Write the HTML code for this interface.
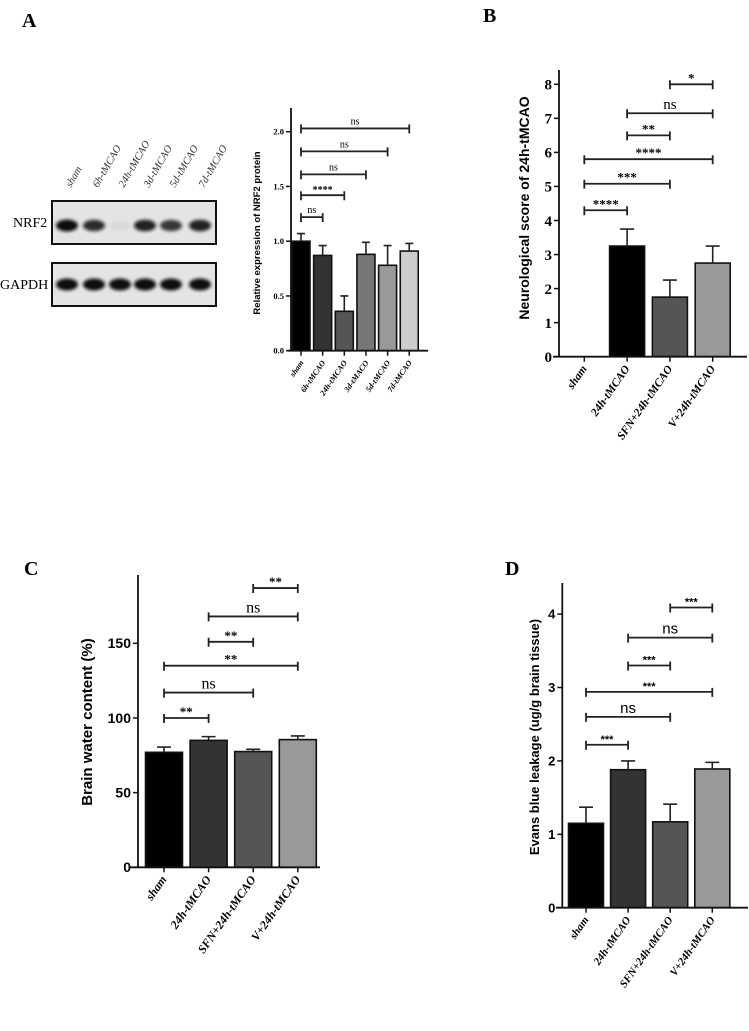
<!DOCTYPE html>
<html><head><meta charset="utf-8"><style>
html,body{margin:0;padding:0;background:#fff}
svg{display:block}
</style></head><body>
<svg id="fig" width="749" height="1031" viewBox="0 0 749 1031" xmlns="http://www.w3.org/2000/svg">
<defs><filter id="blur" x="-50%" y="-50%" width="200%" height="200%"><feGaussianBlur stdDeviation="1.6"/></filter></defs>
<g font-family="Liberation Serif, serif" font-weight="bold" font-size="20">
<text x="22" y="27">A</text>
<text x="483" y="22">B</text>
<text x="24" y="575">C</text>
<text x="505" y="575">D</text>
</g>
</svg>
<script>
// ---------- data ----------
const blotLanes = ["sham","6h-tMCAO","24h-tMCAO","3d-tMCAO","5d-tMCAO","7d-tMCAO"];
const nrf2Band = [1.0, 0.85, 0.05, 0.9, 0.8, 0.9];
const gapdhBand = [1.0, 1.0, 1.0, 1.0, 1.0, 1.0];

const catsA = ["sham","6h-tMCAO","24h-tMCAO","3d-tMACO","5d-tMCAO","7d-tMCAO"];
const valsA = [1.0, 0.87, 0.36, 0.88, 0.78, 0.91];
const errA = [1.07, 0.96, 0.50, 0.99, 0.96, 0.98];
const ticksA = [0, 0.5, 1.0, 1.5, 2.0];
const tickLabA = ["0.0","0.5","1.0","1.5","2.0"];
const brA = [[0,1,1.22,"ns"],[0,2,1.42,"****"],[0,3,1.61,"ns"],[0,4,1.82,"ns"],[0,5,2.03,"ns"]];

const catsB = ["sham","24h-tMCAO","SFN+24h-tMCAO","V+24h-tMCAO"];
const valsB = [0, 3.25, 1.75, 2.75];
const errB = [0, 3.75, 2.25, 3.25];
const ticksB = [0,1,2,3,4,5,6,7,8];
const tickLabB = ["0","1","2","3","4","5","6","7","8"];
const brB = [[0,1,4.3,"****"],[0,2,5.08,"***"],[0,3,5.8,"****"],[1,2,6.5,"**"],[1,3,7.15,"ns"],[2,3,8.0,"*"]];

const catsC = ["sham","24h-tMCAO","SFN+24h-tMCAO","V+24h-tMCAO"];
const valsC = [77, 85, 77.5, 85.5];
const errC = [80.5, 87.5, 79, 88];
const ticksC = [0,50,100,150];
const tickLabC = ["0","50","100","150"];
const brC = [[0,1,100,"**"],[0,2,117,"ns"],[0,3,135,"**"],[1,2,151,"**"],[1,3,168,"ns"],[2,3,187,"**"]];

const catsD = ["sham","24h-tMCAO","SFN+24h-tMCAO","V+24h-tMCAO"];
const valsD = [1.15, 1.88, 1.17, 1.89];
const errD = [1.37, 2.0, 1.41, 1.98];
const ticksD = [0,1,2,3,4];
const tickLabD = ["0","1","2","3","4"];
const brD = [[0,1,2.22,"***"],[0,2,2.6,"ns"],[0,3,2.94,"***"],[1,2,3.3,"***"],[1,3,3.68,"ns"],[2,3,4.09,"***"]];

// ---------- drawing ----------
const NS = "http://www.w3.org/2000/svg";
const svg = document.getElementById("fig");
function mk(tag, attrs, parent){
  const e = document.createElementNS(NS, tag);
  for (const k in attrs) e.setAttribute(k, attrs[k]);
  (parent||svg).appendChild(e);
  return e;
}

function panel(c){
  const g = mk("g", {});
  
  
  const y = v => c.y0 - v * c.ppu;
  const x = i => c.x0 + i * c.dx;
  c.vals.forEach((v, i) => {
    const b = mk("rect", {x: x(i) - c.bw/2, y: y(v), width: c.bw, height: Math.max(0, y(0) - y(v)), fill: c.colors[i], stroke: "#111", "stroke-width": 1.6}, g);
    
    
    if (c.errs[i] > v) {
      const e = mk("path", {d: `M${x(i)},${y(v)}V${y(c.errs[i])}M${x(i)-c.cap},${y(c.errs[i])}H${x(i)+c.cap}`, stroke: "#222", "stroke-width": 1.6, fill: "none"}, g);
      
      
    }
  });
  const ax = mk("path", {d: `M${c.ax},${c.top}V${y(0)}M${c.xs},${y(0)}H${c.xe}`, stroke: "#111", "stroke-width": 1.8, fill: "none"}, g);
  
  
  c.ticks.forEach((t, i) => {
    mk("line", {x1: c.ax - 5, x2: c.ax, y1: y(t), y2: y(t), stroke: "#111", "stroke-width": 1.5}, g);
    const tl = mk("text", {x: c.ax - 7, y: y(t) + c.tfs*0.35, "text-anchor": "end", "font-size": c.tfs, "font-family": c.tfont, "font-weight": "bold"}, g);
    tl.textContent = c.tickLab[i];
    
    
  });
  c.cats.forEach((cat, i) => {
    mk("line", {x1: x(i), x2: x(i), y1: y(0), y2: y(0) + 5, stroke: "#111", "stroke-width": 1.5}, g);
    const tx = x(i) + 3, ty = y(0) + 12;
    const t = mk("text", {x: tx, y: ty, "text-anchor": "end", "font-size": c.xfs, "font-family": "Liberation Serif, serif", "font-weight": "bold", "font-style": "italic", transform: `rotate(-55 ${tx} ${ty})`}, g);
    t.textContent = cat;
    
    
  });
  c.br.forEach(b => {
    const x1 = x(b[0]), x2 = x(b[1]), yy = y(b[2]);
    const p = mk("path", {d: `M${x1},${yy-4}V${yy+5}M${x1},${yy}H${x2}M${x2},${yy-4}V${yy+5}`, stroke: "#222", "stroke-width": 1.8, fill: "none"}, g);
    
    
    const isNs = b[3] === "ns";
    const t = mk("text", {x: (x1 + x2)/2, y: yy - (isNs ? 4 : 2), "text-anchor": "middle", "font-size": isNs ? c.nsfs : c.stfs, "font-family": c.nsfont, "font-weight": isNs ? "normal" : "bold"}, g);
    t.textContent = b[3];
    
    
  });
  const tt = mk("text", {x: c.tx, y: c.ty, "text-anchor": "middle", "font-size": c.tts, "font-family": "Liberation Sans, sans-serif", "font-weight": "bold", transform: `rotate(-90 ${c.tx} ${c.ty})`}, g);
  tt.textContent = c.title;
  
  
}

panel({name:"chart-a", cats:catsA, vals:valsA, errs:errA, ticks:ticksA, tickLab:tickLabA, br:brA,
  colors:["#000","#333","#555","#777","#999","#ccc"],
  ax:291, y0:350.7, ppu:109.5, top:108, xs:288, xe:428, x0:301, dx:21.65, bw:18, cap:4,
  tfs:8.5, tfont:"Liberation Serif, serif", xfs:8, nsfs:10, stfs:10, nsfont:"Liberation Serif, serif",
  title:"Relative expression of NRF2 protein", tx:260, ty:233, tts:9.5});

panel({name:"chart-b", cats:catsB, vals:valsB, errs:errB, ticks:ticksB, tickLab:tickLabB, br:brB,
  colors:["#000","#000","#555","#999"],
  ax:559, y0:356.7, ppu:34.05, top:70, xs:553, xe:747, x0:584.3, dx:42.8, bw:35, cap:7,
  tfs:15, tfont:"Liberation Serif, serif", xfs:11.5, nsfs:15, stfs:13, nsfont:"Liberation Serif, serif",
  title:"Neurological score of 24h-tMCAO", tx:529, ty:208, tts:14});

panel({name:"chart-c", cats:catsC, vals:valsC, errs:errC, ticks:ticksC, tickLab:tickLabC, br:brC,
  colors:["#000","#333","#555","#999"],
  ax:138, y0:867.3, ppu:1.4933, top:575, xs:130, xe:320, x0:164, dx:44.6, bw:37, cap:7,
  tfs:14, tfont:"Liberation Sans, sans-serif", xfs:12, nsfs:16, stfs:13, nsfont:"Liberation Serif, serif",
  title:"Brain water content (%)", tx:92, ty:722, tts:15});

panel({name:"chart-d", cats:catsD, vals:valsD, errs:errD, ticks:ticksD, tickLab:tickLabD, br:brD,
  colors:["#000","#333","#555","#999"],
  ax:562.3, y0:907.7, ppu:73.4, top:583, xs:556, xe:748, x0:586, dx:42.1, bw:35, cap:7,
  tfs:13, tfont:"Liberation Sans, sans-serif", xfs:11, nsfs:15, stfs:11, nsfont:"Liberation Sans, sans-serif",
  title:"Evans blue leakage (ug/g brain tissue)", tx:539, ty:737, tts:13});

// ---------- western blot ----------
(function(){
  const g = mk("g", {});
  
  
  const laneX = [67, 94, 120, 145, 171, 200];
  blotLanes.forEach((l, i) => {
    const tx = laneX[i] + 4, ty = 188;
    const t = mk("text", {x: tx, y: ty, "font-size": 10.5, "font-family": "Liberation Serif, serif", "font-style": "italic", fill: "#333", transform: `rotate(-60 ${tx} ${ty})`}, g);
    t.textContent = l;
    
    
  });
  const rows = [["NRF2", 201, nrf2Band, 3], ["GAPDH", 263, gapdhBand, 0]];
  rows.forEach(r => {
    const box = mk("rect", {x: 52, y: r[1], width: 164, height: 43, fill: "#e4e4e4", stroke: "#111", "stroke-width": 2}, g);
    
    
    r[2].forEach((v, i) => {
      const b = mk("ellipse", {cx: laneX[i], cy: r[1] + 21.5 + r[3], rx: 11, ry: 4 + 2*v, fill: "#111", opacity: v, filter: "url(#blur)"}, g);
      
      
    });
    const lab = mk("text", {x: r[0] === "NRF2" ? 13 : 0, y: r[1] + 26, "font-size": 14, "font-family": "Liberation Serif, serif"}, g);
    lab.textContent = r[0];
    
    
  });
})();
</script>
</body></html>
